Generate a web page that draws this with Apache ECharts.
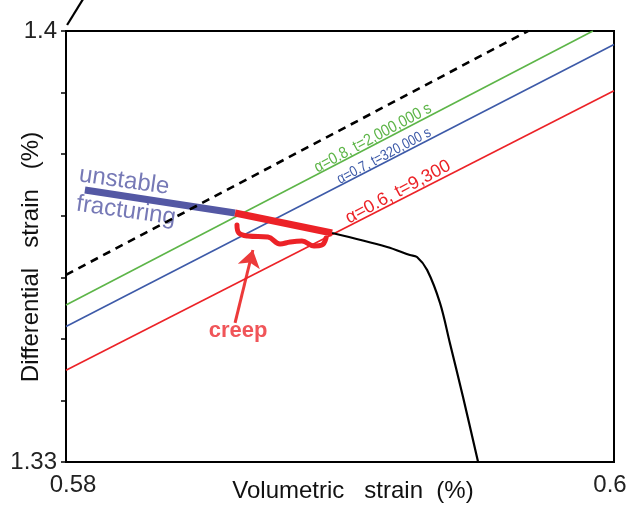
<!DOCTYPE html>
<html>
<head>
<meta charset="utf-8">
<script src="https://cdn.jsdelivr.net/npm/echarts@6/dist/echarts.min.js"></script>
<style>
  html, body { margin: 0; padding: 0; background: #fff; }
  #chart { width: 633px; height: 511px; }
</style>
</head>
<body>
<div id="chart"></div>
<script>
// Axis ranges and tick labels
const xRange = [0.58, 0.6];
const yRange = [1.33, 1.4];
const xTickLabels = ['0.58', '0.6'];
const yTickLabels = ['1.33', '1.4'];

// Straight reference lines [volumetric, differential]
const dashedLine = [[0.58, 1.3604], [0.59686, 1.4]];
const alpha08Line = [[0.58, 1.3555], [0.59923, 1.4]];
const alpha07Line = [[0.58, 1.3520], [0.6, 1.3978]];
const alpha06Line = [[0.58, 1.3449], [0.6, 1.3903]];
const leadingStroke = [[0.58004, 1.40097], [0.58068, 1.40560]];

// Strain path
const unstablePath = [[0.58069, 1.37418], [0.58617, 1.37044]];
const creepPath = [[0.58617, 1.37044], [0.58971, 1.36719]];
const postPeakPath = [
  [0.58971, 1.36719], [0.59172, 1.36492], [0.59255, 1.36362],
  [0.59281, 1.36329], [0.59318, 1.36118], [0.59365, 1.35582],
  [0.59401, 1.34933], [0.59449, 1.34056], [0.59504, 1.33]
];

// Curly brace under the creep segment
const creepBrace = [
  [0.58624, 1.36849], [0.58631, 1.36719], [0.58664, 1.36670],
  [0.58737, 1.36654], [0.58781, 1.36541], [0.58818, 1.36573],
  [0.58861, 1.36589], [0.58905, 1.36508], [0.58934, 1.36524],
  [0.58949, 1.36638]
];

// Arrow from the "creep" note to the brace
const creepArrow = [[0.58617, 1.35258], [0.58682, 1.36443]];

// Line annotations along the sloped lines: [x, y, text, colour, size, rotation, horizontal squeeze]
const lineNotes = [
  [0.59120, 1.38262, 'α=0.8, t=2,000,000 s', '#5db548', 16.5, 28, 0.86],
  [0.59161, 1.37970, 'α=0.7, t=320,000 s', '#3d5aa8', 15, 28, 0.83],
  [0.59212, 1.37385, 'α=0.6, t=9,300', '#ec2227', 18, 28, 1.0]
];

// Free notes: [x, y, text, colour, size, rotation, weight]
const notes = [
  [0.58212, 1.37564, 'unstable', '#5458a4', 24, -8, 'normal'],
  [0.58219, 1.37077, 'fracturing', '#5458a4', 24, -8, 'normal'],
  [0.58628, 1.35128, 'creep', '#ec2a2f', 22, 0, 'bold']
];

const FONT = '"Liberation Sans", Arial, Helvetica, sans-serif';

function near(a, b) { return Math.abs(a - b) < 1e-6; }

function plainLine(data, color, width, extra) {
  return Object.assign({
    type: 'line',
    data: data,
    symbol: 'none',
    silent: true,
    lineStyle: { color: color, width: width },
    animation: false
  }, extra || {});
}

const noteSeries = notes.map(function (n) {
  return {
    type: 'scatter',
    data: [[n[0], n[1]]],
    symbolSize: 0,
    silent: true,
    animation: false,
    label: {
      show: true,
      position: 'inside',
      formatter: n[2],
      color: n[3],
      fontSize: n[4],
      rotate: n[5],
      fontWeight: n[6],
      fontFamily: FONT,
      align: 'center',
      verticalAlign: 'middle'
    }
  };
});

const chart = echarts.init(document.getElementById('chart'), null, { renderer: 'canvas' });

chart.setOption({
  backgroundColor: '#ffffff',
  animation: false,
  grid: {
    left: 66, top: 31, right: 19, bottom: 49,
    containLabel: false,
    outerBoundsMode: 'none',
    show: true, borderColor: '#000', borderWidth: 2
  },
  xAxis: {
    type: 'value',
    min: xRange[0], max: xRange[1], interval: 0.02,
    name: 'Volumetric   strain  (%)',
    nameLocation: 'middle',
    nameGap: 17,
    nameMoveOverlap: false,
    nameTextStyle: { fontFamily: FONT, fontSize: 24, color: '#111', padding: [0, 0, 0, 26] },
    axisLine: { lineStyle: { color: '#000', width: 2 } },
    axisTick: { show: false },
    splitLine: { show: false },
    axisLabel: {
      fontFamily: FONT, fontSize: 24, color: '#222', margin: 11,
      formatter: function (v) {
        if (near(v, xRange[0])) return '{lo|' + xTickLabels[0] + '}';
        if (near(v, xRange[1])) return '{hi|' + xTickLabels[1] + '}';
        return '';
      },
      rich: {
        lo: { fontFamily: FONT, fontSize: 24, color: '#222', padding: [0, 0, 0, 14] },
        hi: { fontFamily: FONT, fontSize: 24, color: '#222', padding: [0, 8, 0, 0] }
      }
    }
  },
  yAxis: {
    type: 'value',
    min: yRange[0], max: yRange[1], interval: 0.01,
    name: 'Differential   strain   (%)',
    nameLocation: 'middle',
    nameGap: 23,
    nameRotate: 90,
    nameMoveOverlap: false,
    nameTextStyle: { fontFamily: FONT, fontSize: 24, color: '#111', padding: [0, 21, 0, 0] },
    axisLine: { lineStyle: { color: '#000', width: 2 } },
    axisTick: { show: true, length: 5, lineStyle: { color: '#000', width: 1.5 } },
    splitLine: { show: false },
    axisLabel: {
      fontFamily: FONT, fontSize: 24, color: '#222', margin: 9,
      formatter: function (v) {
        if (near(v, yRange[0])) return yTickLabels[0];
        if (near(v, yRange[1])) return yTickLabels[1];
        return '';
      }
    }
  },
  series: [
    plainLine(alpha08Line, '#5db548', 1.6),
    plainLine(alpha07Line, '#3d5aa8', 1.6),
    plainLine(alpha06Line, '#ec2227', 1.6),
    plainLine(unstablePath, '#5458a4', 7),
    plainLine(dashedLine, '#000', 2.6, { lineStyle: { color: '#000', width: 2.6, type: [8, 6] } }),
    plainLine(creepPath, '#ec2227', 7),
    plainLine(creepBrace, '#ec2227', 5, { smooth: 0.4, lineStyle: { color: '#ec2227', width: 5, cap: 'round', join: 'round' } }),
    plainLine(postPeakPath, '#000', 2.2, { smooth: 0.35 }),
    plainLine(leadingStroke, '#000', 2.2, { clip: false }),
    {
      type: 'lines',
      coordinateSystem: 'cartesian2d',
      silent: true,
      animation: false,
      symbol: ['none', 'arrow'],
      symbolSize: [0, 17],
      lineStyle: { color: '#ec3a3a', width: 3, opacity: 1 },
      data: [{ coords: creepArrow }]
    }
  ].concat(noteSeries)
});

// Condensed, rotated annotations placed through the grid's own coordinate conversion
chart.setOption({
  graphic: lineNotes.map(function (n) {
    const p = chart.convertToPixel({ gridIndex: 0 }, [n[0], n[1]]);
    return {
      type: 'text',
      x: p[0],
      y: p[1],
      rotation: n[5] * Math.PI / 180,
      scaleX: n[6],
      silent: true,
      style: {
        text: n[2],
        fill: n[3],
        font: n[4] + 'px ' + FONT,
        align: 'center',
        verticalAlign: 'middle'
      }
    };
  })
});
</script>
</body>
</html>
